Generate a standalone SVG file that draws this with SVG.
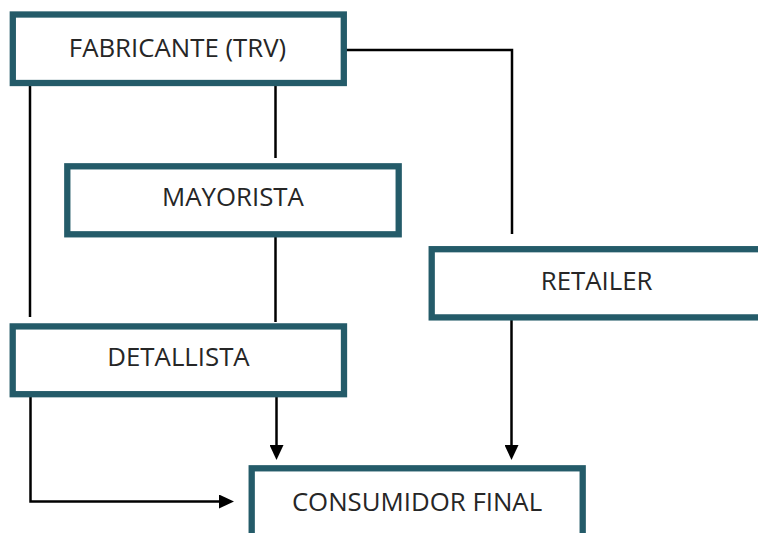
<svg xmlns="http://www.w3.org/2000/svg" width="758" height="533" viewBox="0 0 758 533">
  <style>
    .box { fill: #ffffff; stroke: #245b69; stroke-width: 6.3; }
    .lbl { font-family: "Open Sans", "Liberation Sans", sans-serif; font-size: 25.8px; fill: #262626; text-anchor: middle; }
    .wire { fill: none; stroke: #000000; stroke-width: 2.5; }
  </style>
  <defs>
    <marker id="arrow" markerUnits="userSpaceOnUse" markerWidth="15" markerHeight="14" refX="11" refY="7" orient="auto">
      <path d="M0,0 L15,7 L0,14 Z" fill="#000000"/>
    </marker>
  </defs>
  <rect width="758" height="533" fill="#ffffff"/>

  <g id="connectors">
    <path class="wire" d="M275.5 86 V158"/>
    <path class="wire" d="M30 86 V317"/>
    <path class="wire" d="M345 50 H512 V234"/>
    <path class="wire" d="M275.5 236 V322"/>
    <path class="wire" d="M276.5 397 V456" marker-end="url(#arrow)"/>
    <path class="wire" d="M30.5 397 V501.5 H230" marker-end="url(#arrow)"/>
    <path class="wire" d="M511.5 320 V456" marker-end="url(#arrow)"/>
  </g>

  <g id="fabricante">
    <rect class="box" x="12.8" y="14.5" width="331" height="68.5"/>
    <text class="lbl" x="177.5" y="56.7">FABRICANTE (TRV)</text>
  </g>

  <g id="mayorista">
    <rect class="box" x="67.3" y="166.3" width="331.4" height="68"/>
    <text class="lbl" x="233" y="206">MAYORISTA</text>
  </g>

  <g id="retailer">
    <rect class="box" x="431.7" y="249.2" width="345" height="68.2"/>
    <text class="lbl" x="596.7" y="290">RETAILER</text>
  </g>

  <g id="detallista">
    <rect class="box" x="12.7" y="326.4" width="331.3" height="67.8"/>
    <text class="lbl" x="178.5" y="366">DETALLISTA</text>
  </g>

  <g id="consumidor-final">
    <rect class="box" x="251.7" y="468.3" width="331" height="100"/>
    <text class="lbl" x="417" y="510.5">CONSUMIDOR FINAL</text>
  </g>
</svg>
